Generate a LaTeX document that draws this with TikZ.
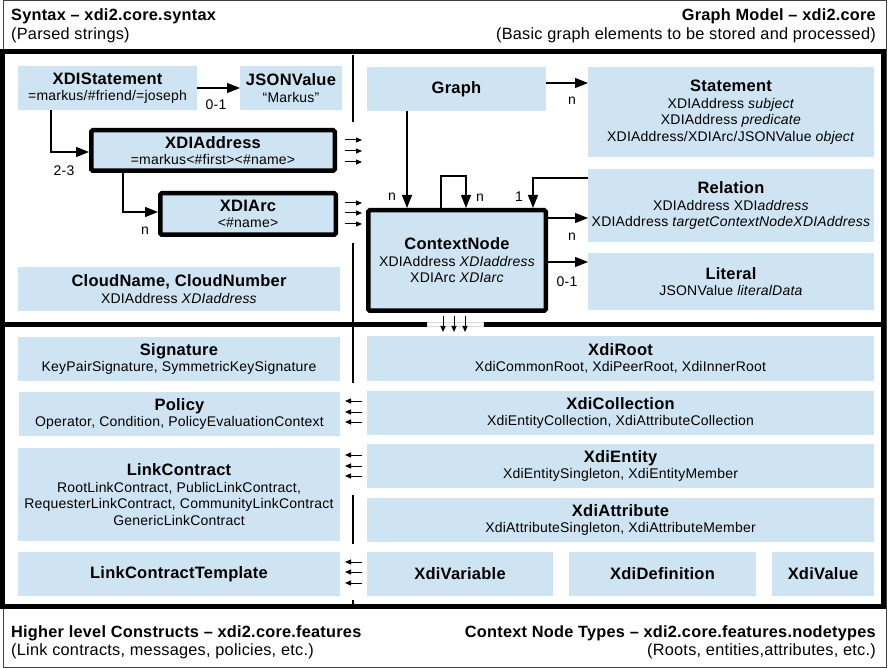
\documentclass[tikz,border=0pt]{standalone}
\usepackage{fontspec}
\setmainfont{Liberation Sans}[LetterSpace=1.5]
\usetikzlibrary{arrows.meta}
\definecolor{boxblue}{RGB}{207,228,242}
\newcommand\boxtitle{\fontsize{16.5}{16.5}\selectfont\bfseries}
\newcommand\boxtext{\fontsize{14}{16.5}\selectfont}
\newcommand\headbold{\fontsize{16.3}{19}\selectfont\bfseries}
\newcommand\headtext{\fontsize{16.3}{19}\selectfont}
\tikzset{
  box/.style={fill=boxblue, inner sep=0pt, outer sep=0pt, align=center, anchor=north west, font=\boxtext},
  thickbox/.style={box, draw=black, line width=4.5pt, rounded corners=1.5pt, outer sep=2.25pt},
  conn/.style={draw=black, line width=1.2pt, -{Triangle[length=13pt,width=10pt]}},
  tinyarrow/.style={draw=black, line width=1pt, -{Triangle[length=6pt,width=5pt]}},
  lbl/.style={font=\boxtext, inner sep=0pt},
  head/.style={inner sep=0pt},
  sep/.style={draw=black, line width=1.2pt},
}
\begin{document}
\begin{tikzpicture}[x=1pt,y=-1pt]
\useasboundingbox (0,0) rectangle (889,668);
% frames
\draw[line width=1pt, draw=black!75] (3.5,0.5) rectangle (886,667);
\draw[line width=5pt] (2.5,52) rectangle (883.5,606.5);
\draw[line width=5pt] (2.5,324.5) -- (427,324.5);
\draw[line width=5pt] (483,324.5) -- (883.5,324.5);
\draw[gray!30, line width=0.8pt] (427,322.5) rectangle (483,326.5);
% vertical separator
\draw[sep] (353,55) -- (353,122);
\draw[sep] (353,243) -- (353,383);
\draw[sep] (353,495) -- (353,544);
\draw[sep] (353,600) -- (353,606);
% headers
\node[head, anchor=base west, font=\headbold] (h1) at (11,21) {Syntax – xdi2.core.syntax};
\node[head, anchor=base west, font=\headtext] (s1) at (11,39.5) {(Parsed strings)};
\node[head, anchor=base east, font=\headbold] (h2) at (876,21) {Graph Model – xdi2.core};
\node[head, anchor=base east, font=\headtext] (s2) at (876,39.5) {(Basic graph elements to be stored and processed)};
\node[head, anchor=base west, font=\headbold] (h3) at (11,637) {Higher level Constructs – xdi2.core.features};
\node[head, anchor=base west, font=\headtext] (s3) at (11,655) {(Link contracts, messages, policies, etc.)};
\node[head, anchor=base east, font=\headbold] (h4) at (876,637) {Context Node Types – xdi2.core.features.nodetypes};
\node[head, anchor=base east, font=\headtext] (s4) at (876,655) {(Roots, entities,attributes, etc.)};
% syntax boxes
\node[box, minimum width=179pt, minimum height=44pt] (xstmt) at (18,66) {{\boxtitle XDIStatement}\\=markus/\#friend/=joseph};
\node[box, minimum width=102pt, minimum height=44pt] (json) at (240,66) {{\boxtitle JSONValue}\\“Markus”};
\node[thickbox, minimum width=243.5pt, minimum height=40.5pt] (xaddr) at (89,128) {{\boxtitle XDIAddress}\\=markus<\#first><\#name>};
\node[thickbox, minimum width=175.5pt, minimum height=41.5pt] (xarc) at (158,191) {{\boxtitle XDIArc}\\<\#name>};
\node[box, minimum width=322pt, minimum height=44pt] (cloud) at (18,267) {{\boxtitle CloudName, CloudNumber}\\XDIAddress \textit{XDIaddress}};
% graph model boxes
\node[box, minimum width=179pt, minimum height=44pt] (graph) at (367,67) {{\boxtitle Graph}};
\node[box, minimum width=286pt, minimum height=90pt] (stmt) at (588,67) {{\boxtitle Statement}\\XDIAddress \textit{subject}\\XDIAddress \textit{predicate}\\XDIAddress/XDIArc/JSONValue \textit{object}};
\node[thickbox, minimum width=177.5pt, minimum height=100.5pt] (cn) at (366,208) {{\boxtitle ContextNode}\\XDIAddress \textit{XDIaddress}\\XDIArc \textit{XDIarc}};
\node[box, minimum width=286pt, minimum height=73pt] (rel) at (588,169) {{\boxtitle Relation}\\XDIAddress XDI\textit{address}\\XDIAddress \textit{targetContextNodeXDIAddress}};
\node[box, minimum width=286pt, minimum height=57pt] (lit) at (588,253) {{\boxtitle Literal}\\JSONValue \textit{literalData}};
% features boxes
\node[box, minimum width=322pt, minimum height=44pt] (sig) at (18,337) {{\boxtitle Signature}\\KeyPairSignature, SymmetricKeySignature};
\node[box, minimum width=321pt, minimum height=44pt] (pol) at (19,392) {{\boxtitle Policy}\\Operator, Condition, PolicyEvaluationContext};
\node[box, minimum width=322pt, minimum height=93pt] (lc) at (18,448) {{\boxtitle LinkContract}\\RootLinkContract, PublicLinkContract,\\RequesterLinkContract, CommunityLinkContract\\GenericLinkContract};
\node[box, minimum width=322pt, minimum height=44pt] (lct) at (18,552) {{\boxtitle LinkContractTemplate}};
% node types boxes
\node[box, minimum width=507pt, minimum height=45pt] (root) at (367,336) {{\boxtitle XdiRoot}\\XdiCommonRoot, XdiPeerRoot, XdiInnerRoot};
\node[box, minimum width=507pt, minimum height=44pt] (coll) at (367,391) {{\boxtitle XdiCollection}\\XdiEntityCollection, XdiAttributeCollection};
\node[box, minimum width=507pt, minimum height=44pt] (ent) at (367,444) {{\boxtitle XdiEntity}\\XdiEntitySingleton, XdiEntityMember};
\node[box, minimum width=507pt, minimum height=44pt] (attr) at (367,498) {{\boxtitle XdiAttribute}\\XdiAttributeSingleton, XdiAttributeMember};
\node[box, minimum width=186pt, minimum height=44pt] (var) at (367,552) {{\boxtitle XdiVariable}};
\node[box, minimum width=187pt, minimum height=44pt] (def) at (569,552) {{\boxtitle XdiDefinition}};
\node[box, minimum width=102pt, minimum height=44pt] (val) at (772,552) {{\boxtitle XdiValue}};
% connectors
\draw[conn] (xstmt.east) -- (json.west);
\draw[conn] (xstmt.south -| 51,0) |- (xaddr.west |- 0,152);
\draw[conn] (xaddr.south -| 123,0) |- (xarc.west |- 0,212);
\draw[conn] (graph.south -| 407,0) -- (cn.north -| 407,0);
\draw[conn] (cn.north -| 441,0) -- ++(0,-32) -| (cn.north -| 466,0);
\draw[conn] (rel.west |- 0,178) -| (cn.north -| 533,0);
\draw[conn] (graph.east |- 0,83) -- (stmt.west |- 0,83);
\draw[conn] (cn.east |- 0,218) -- (rel.west |- 0,218);
\draw[conn] (cn.east |- 0,262) -- (lit.west |- 0,262);
% connector labels
\node[lbl] (la) at (216,105) {0-1};
\node[lbl] (lb) at (64,171) {2-3};
\node[lbl] (lc1) at (145,231) {n};
\node[lbl] (ld) at (392,197) {n};
\node[lbl] (le) at (480,198) {n};
\node[lbl] (lf) at (519,197) {1};
\node[lbl] (lg) at (572,101) {n};
\node[lbl] (lh) at (572,237) {n};
\node[lbl] (li) at (567,282) {0-1};
% small arrows
\foreach \y in {140,151,162,203,213,224} \draw[tinyarrow] (345,\y) -- (362,\y);
\foreach \y in {401,412,422,455,466,476,562,572,583} \draw[tinyarrow] (362,\y) -- (345,\y);
\foreach \x in {443,454,465} \draw[tinyarrow] (\x,316) -- (\x,332);
\end{tikzpicture}
\end{document}
